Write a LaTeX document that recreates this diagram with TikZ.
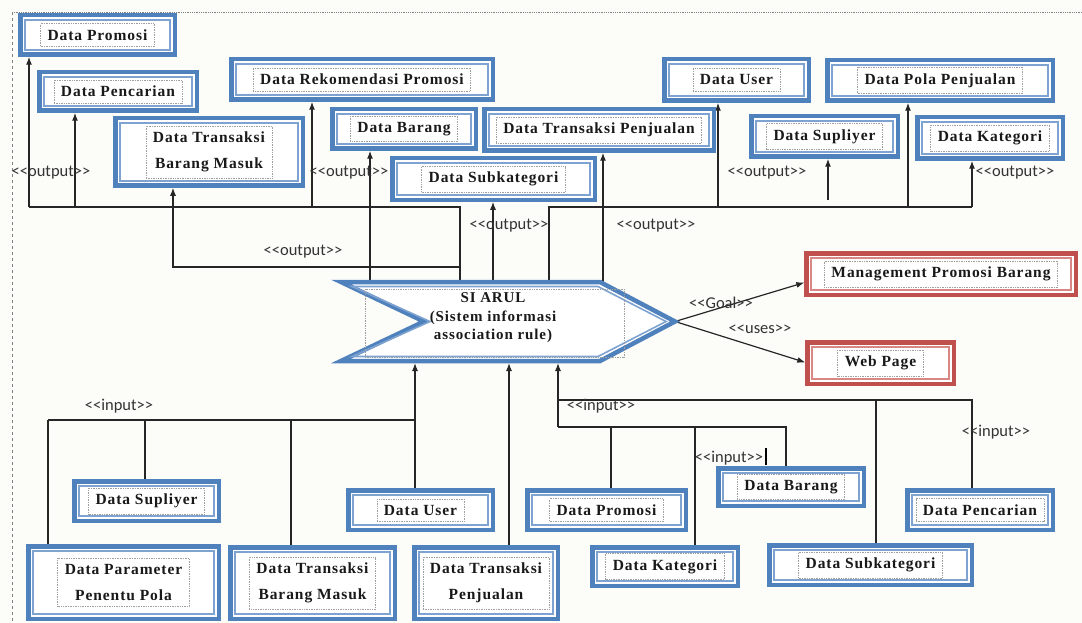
\documentclass[tikz,border=0pt]{standalone}
\usepackage{fontspec}
\usetikzlibrary{arrows.meta,fit}
\newfontfamily\boxfont{Liberation Serif}[LetterSpace=6]
\newfontfamily\labfont{Carlito}
\definecolor{bluec}{HTML}{4F81BD}
\definecolor{bluel}{HTML}{7FA3D0}
\definecolor{redc}{HTML}{C0504D}
\definecolor{redl}{HTML}{D98784}
\definecolor{pagec}{HTML}{FCFCF9}
\pgfdeclarelayer{back}
\pgfdeclarelayer{wires}
\pgfsetlayers{back,wires,main}
% stereotype label text, kerned so << and >> stay as two signs
\newcommand\st[1]{<\kern0pt<#1>\kern0pt>}
\tikzset{
  bx/.style={draw=#1, line width=4.5pt, fill=white, inner sep=0pt, outer sep=0pt},
  inl/.style={draw=#1, line width=1.6pt},
  tf/.style={draw=gray!75, densely dotted, line width=0.7pt, inner xsep=7pt, inner ysep=6pt,
    align=center, text=black!90, font=\boxfont\bfseries\fontsize{15.5}{26}\selectfont},
  wire/.style={draw=black!85, line width=1.2pt},
  arr/.style={wire, -{Latex[length=8pt,width=6pt]}, shorten >=2pt},
  lab/.style={font=\labfont\fontsize{16.5}{19}\selectfont, text=black!80, inner sep=0pt},
}
% double-bordered data box: [colour] name x1 y1 x2 y2 text
\newcommand\dbox[7][blue]{%
  \node[bx=#1c, fit={(#3+2.25,#4+2.25) (#5-2.25,#6-2.25)}] (#2) {};
  \draw[inl=#1l] ([shift={(4.8pt,-4.8pt)}]#2.north west) rectangle ([shift={(-4.8pt,4.8pt)}]#2.south east);
  \node[tf] (#2t) at (#2.center) {#7};
}
\begin{document}
\begin{tikzpicture}[x=1pt,y=-1pt]
\useasboundingbox (0,0) rectangle (1082,623);
\begin{pgfonlayer}{back}
  \fill[pagec] (0,0) rectangle (1082,623);
  \draw[gray, densely dotted, line width=0.8pt] (12,12) -- (1082,12);
  \draw[gray, dashed, line width=0.8pt] (12,12) -- (12,623);
\end{pgfonlayer}

% ---- output targets
\dbox{pPromosi}{18}{13}{177}{57}{Data Promosi}
\dbox{pPencarian}{37}{70}{199}{113}{Data Pencarian}
\dbox{pTBM}{113}{116}{305}{188}{Data Transaksi\\Barang Masuk}
\dbox{pRekom}{229}{57}{495}{102}{Data Rekomendasi Promosi}
\dbox{pBarang}{330}{107}{478}{151}{Data Barang}
\dbox{pTPenj}{482}{107}{716}{153}{Data Transaksi Penjualan}
\dbox{pSubkat}{390}{156}{597}{202}{Data Subkategori}
\dbox{pUser}{662}{57}{811}{103}{Data User}
\dbox{pPola}{825}{58}{1055}{103}{Data Pola Penjualan}
\dbox{pSupl}{749}{114}{900}{159}{Data Supliyer}
\dbox{pKateg}{915}{115}{1065}{161}{Data Kategori}

% ---- goal and interface
\dbox[red]{rMgmt}{804}{251}{1078}{297}{Management Promosi Barang}
\dbox[red]{rWeb}{805}{340}{956}{386}{Web Page}

% ---- input sources
\dbox{bSupl}{72}{479}{221}{523}{Data Supliyer}
\dbox{bUser}{346}{488}{495}{532}{Data User}
\dbox{bParam}{26}{544}{221}{621}{Data Parameter\\Penentu Pola}
\dbox{bTBM}{228}{545}{397}{621}{Data Transaksi\\Barang Masuk}
\dbox{bTPenj}{412}{545}{560}{621}{Data Transaksi\\Penjualan}
\dbox{bPromosi}{525}{488}{688}{532}{Data Promosi}
\dbox{bKateg}{590}{545}{740}{588}{Data Kategori}
\dbox{bBarang}{716}{466}{866}{508}{Data Barang}
\dbox{bSubkat}{767}{543}{974}{587}{Data Subkategori}
\dbox{bPencarian}{905}{488}{1055}{532}{Data Pencarian}

% ---- the system (chevron)
\node[minimum width=334pt, minimum height=79pt, inner sep=0pt, outer sep=0pt] (siarul) at (508,321.5) {};
\draw[bluec, line width=4.5pt, fill=white, line join=miter]
  (341,282) -- (600,282) -- (675,321.5) -- (600,361) -- (341,361) -- (424,321.5) -- cycle;
\draw[bluel, line width=1.6pt]
  (352,286.5) -- (598,286.5) -- (666,321.5) -- (598,356.5) -- (352,356.5) -- (430,321.5) -- cycle;
\draw[gray!75, densely dotted, line width=0.7pt] (365,289) rectangle (624,357);
\node[align=center, text=black!90, font=\boxfont\bfseries\fontsize{15}{18.5}\selectfont]
  (satext) at (493,318) {SI ARUL\\(Sistem informasi\\association rule)};

\begin{pgfonlayer}{wires}
  % left output bus
  \coordinate (ob1) at (29,207);
  \coordinate (ob2) at (460,207);
  \coordinate (oc1) at (173,267);
  \draw[wire] (siarul.north -| ob2) -- (ob2) -- (ob1);
  \draw[arr] (ob1) -- (pPromosi.south -| ob1);
  \draw[arr] (ob1 -| 75,0) -- (pPencarian.south -| 75,0);
  \draw[arr] (ob1 -| 312,0) -- (pRekom.south -| 312,0);
  \draw[arr] (ob2 |- oc1) -- (oc1) -- (pTBM.south -| oc1);
  % direct outputs
  \draw[arr] (siarul.north -| 370,0) -- (pBarang.south -| 370,0);
  \draw[arr] (siarul.north -| 493,0) -- (pSubkat.south -| 493,0);
  \draw[arr] (siarul.north -| 603,0) -- (pTPenj.south -| 603,0);
  % right output bus
  \coordinate (ob3) at (549,207);
  \coordinate (ob4) at (972,207);
  \coordinate (sfree) at (828,200);
  \draw[wire] (siarul.north -| ob3) -- (ob3) -- (ob4);
  \draw[arr] (ob4) -- (pKateg.south -| ob4);
  \draw[arr] (ob3 -| 718,0) -- (pUser.south -| 718,0);
  \draw[arr] (ob3 -| 908,0) -- (pPola.south -| 908,0);
  \draw[arr] (sfree) -- (pSupl.south -| sfree);
  % goal / uses
  \draw[arr] (siarul.east) -- ([yshift=-8pt]rMgmt.west);
  \draw[arr] (siarul.east) -- (rWeb.west);
  % left input bus
  \coordinate (ib1) at (48,420);
  \coordinate (ib2) at (415,420);
  \draw[wire] (ib1) -- (ib2);
  \draw[arr] (bUser.north -| ib2) -- (siarul.south -| ib2);
  \draw[wire] (ib1) -- (bParam.north -| ib1);
  \draw[wire] (ib1 -| 145,0) -- (bSupl.north -| 145,0);
  \draw[wire] (ib1 -| 291,0) -- (bTBM.north -| 291,0);
  \draw[arr] (bTPenj.north -| 509,0) -- (siarul.south -| 509,0);
  % right input buses
  \coordinate (ib3) at (558,427);
  \coordinate (ib4) at (558,400);
  \draw[arr] (ib3) -- (siarul.south -| ib3);
  \draw[wire] (ib3) -- (ib3 -| 786,0) -- (bBarang.north -| 786,0);
  \draw[wire] (ib3 -| 611,0) -- (bPromosi.north -| 611,0);
  \draw[wire] (ib3 -| 695,0) -- (bKateg.north -| 695,0);
  \draw[wire] (ib4) -- (ib4 -| 972,0) -- (bPencarian.north -| 972,0);
  \draw[wire] (ib4 -| 876,0) -- (bSubkat.north -| 876,0);
  \coordinate (tk) at (766,448);
  \draw[black, line width=2.5pt] (tk) -- ++(0,17);
\end{pgfonlayer}

% ---- stereotype labels
\node[lab] (lo1) at (51,173) {\st{output}};
\node[lab] (lo2) at (349,173) {\st{output}};
\node[lab] (lo3) at (509,226) {\st{output}};
\node[lab] (lo4) at (656,226) {\st{output}};
\node[lab] (lo5) at (767,173) {\st{output}};
\node[lab] (lo6) at (1015,173) {\st{output}};
\node[lab] (lo7) at (303,252) {\st{output}};
\node[lab] (lgoal) at (721,303) {\st{Goal}};
\node[lab] (luses) at (760,329) {\st{uses}};
\node[lab] (li1) at (119,406) {\st{input}};
\node[lab] (li2) at (601,406) {\st{input}};
\node[lab] (li3) at (729,458) {\st{input}};
\node[lab] (li4) at (996,432) {\st{input}};
\end{tikzpicture}
\end{document}
